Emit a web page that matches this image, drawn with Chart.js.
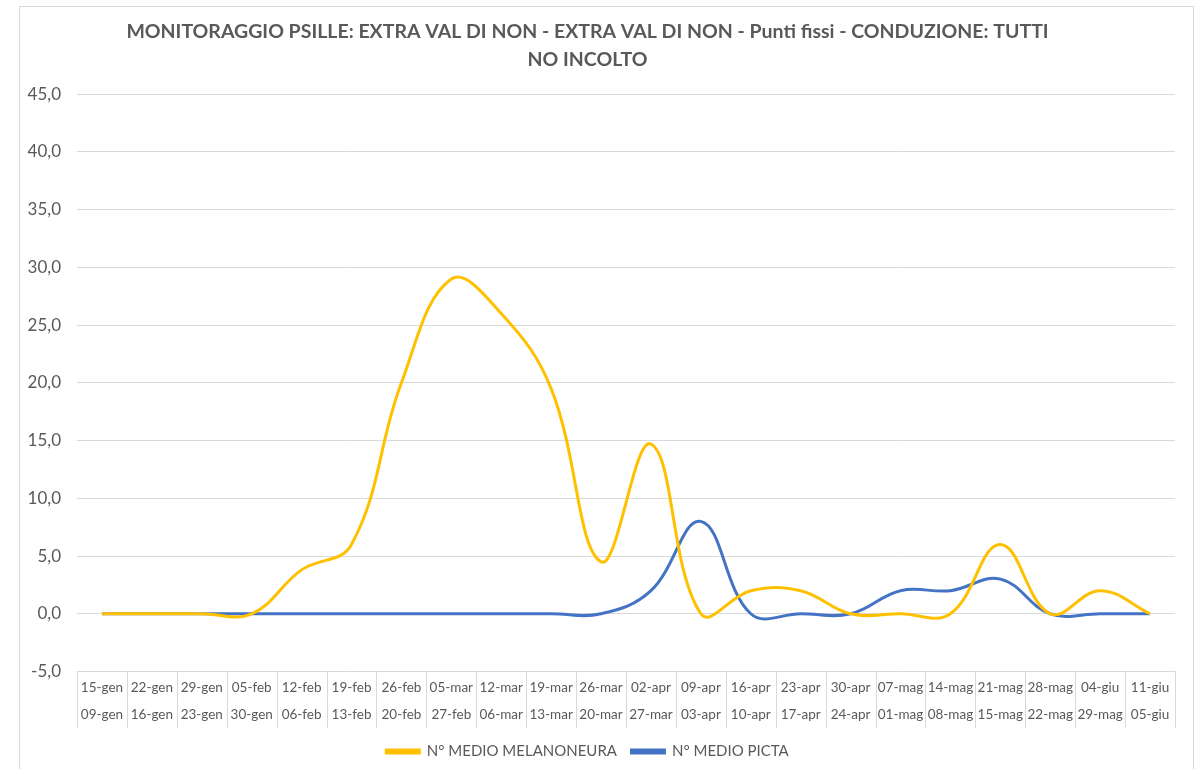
<!DOCTYPE html>
<html>
<head>
<meta charset="utf-8">
<script src="https://cdn.jsdelivr.net/npm/chart.js@4"></script>
<style>
  body { margin: 0; background: #fff; }
  .frame { position: absolute; left: 19px; top: 6px; width: 1173px; height: 800px; border: 1px solid #d9d9d9; }
  .wrap { position: absolute; left: 0; top: 0; width: 1201px; height: 769px; }
</style>
</head>
<body>
<div class="frame"></div>
<div class="wrap"><canvas id="chart"></canvas></div>
<script>
// settimane: riga alta (fine) e riga bassa (inizio)
let weekEnd = ["15-gen","22-gen","29-gen","05-feb","12-feb","19-feb","26-feb","05-mar","12-mar","19-mar","26-mar",
               "02-apr","09-apr","16-apr","23-apr","30-apr","07-mag","14-mag","21-mag","28-mag","04-giu","11-giu"],
    weekStart = ["09-gen","16-gen","23-gen","30-gen","06-feb","13-feb","20-feb","27-feb","06-mar","13-mar","20-mar",
                 "27-mar","03-apr","10-apr","17-apr","24-apr","01-mag","08-mag","15-mag","22-mag","29-mag","05-giu"],
    melanoneura = [0,0,0,0,3.8,6,20,29,26,19.5,4.5,14.7,0,2,2,0,0,0,6,0,2,0],
    picta = [0,0,0,0,0,0,0,0,0,0,0,2,8,0,0,0,2,2,3,0,0,0],
    yTicksMin = -5,
    yTicksMax = 45,
    yStep = 5

let labels = weekEnd.map((w, i) => [w, weekStart[i]])
let fontFam = "Lato, 'Open Sans', sans-serif"
let grey = "#595959"

// linee verticali della "tabella" sotto l'asse x
let tableLines = {
    id: "tableLines",
    afterDraw(chart) {
        let x = chart.scales.x, ctx = chart.ctx
        let top = chart.chartArea.bottom, bottom = top + 57
        ctx.save()
        ctx.strokeStyle = "#d9d9d9"
        ctx.lineWidth = 1
        for (let i = 0; i <= labels.length; i++) {
            let px
            if (i == 0) px = x.left
            else if (i == labels.length) px = x.right
            else px = (x.getPixelForValue(i - 1) + x.getPixelForValue(i)) / 2
            px = Math.round(px) + 0.5
            ctx.beginPath()
            ctx.moveTo(px, top)
            ctx.lineTo(px, bottom)
            ctx.stroke()
        }
        ctx.restore()
    }
}

new Chart(document.querySelector("#chart"), {
    type: "line",
    plugins: [tableLines],
    data: {
        labels: labels,
        datasets: [
            { label: "N° MEDIO MELANONEURA", data: melanoneura, borderColor: "#FFC000", backgroundColor: "#FFC000",
              borderWidth: 3, pointRadius: 0, tension: 0.4 },
            { label: "N° MEDIO PICTA", data: picta, borderColor: "#4472C4", backgroundColor: "#4472C4",
              borderWidth: 3, pointRadius: 0, tension: 0.4 }
        ]
    },
    options: {
        responsive: true,
        maintainAspectRatio: false,
        animation: false,
        layout: { padding: { left: 0, right: 26, top: 0, bottom: 0 } },
        plugins: {
            tooltip: { enabled: false },
            title: {
                display: true,
                text: ["MONITORAGGIO PSILLE: EXTRA VAL DI NON - EXTRA VAL DI NON - Punti fissi - CONDUZIONE: TUTTI", "NO INCOLTO"],
                color: grey,
                font: { family: fontFam, size: 19.5, weight: "bold", lineHeight: 1.44 },
                padding: { top: 18, bottom: 20 }
            },
            legend: {
                position: "bottom",
                labels: {
                    color: grey,
                    font: { family: fontFam, size: 15 },
                    boxWidth: 33,
                    boxHeight: 3,
                    padding: 14.5
                }
            }
        },
        scales: {
            x: {
                offset: true,
                afterFit: (s) => { s.height = 58 },
                grid: { display: false },
                border: { display: false },
                ticks: {
                    color: grey,
                    font: { family: fontFam, size: 13.5, lineHeight: 2.0 },
                    autoSkip: false,
                    maxRotation: 0,
                    padding: -5
                }
            },
            y: {
                min: yTicksMin,
                max: yTicksMax,
                afterFit: (s) => { s.width = 77 },
                grid: { color: "#d9d9d9", drawTicks: false },
                border: { display: false },
                ticks: {
                    stepSize: yStep,
                    color: grey,
                    padding: 16,
                    font: { family: fontFam, size: 17 },
                    callback: (v) => v.toFixed(1).replace(".", ",")
                }
            }
        }
    }
})
</script>
</body>
</html>
